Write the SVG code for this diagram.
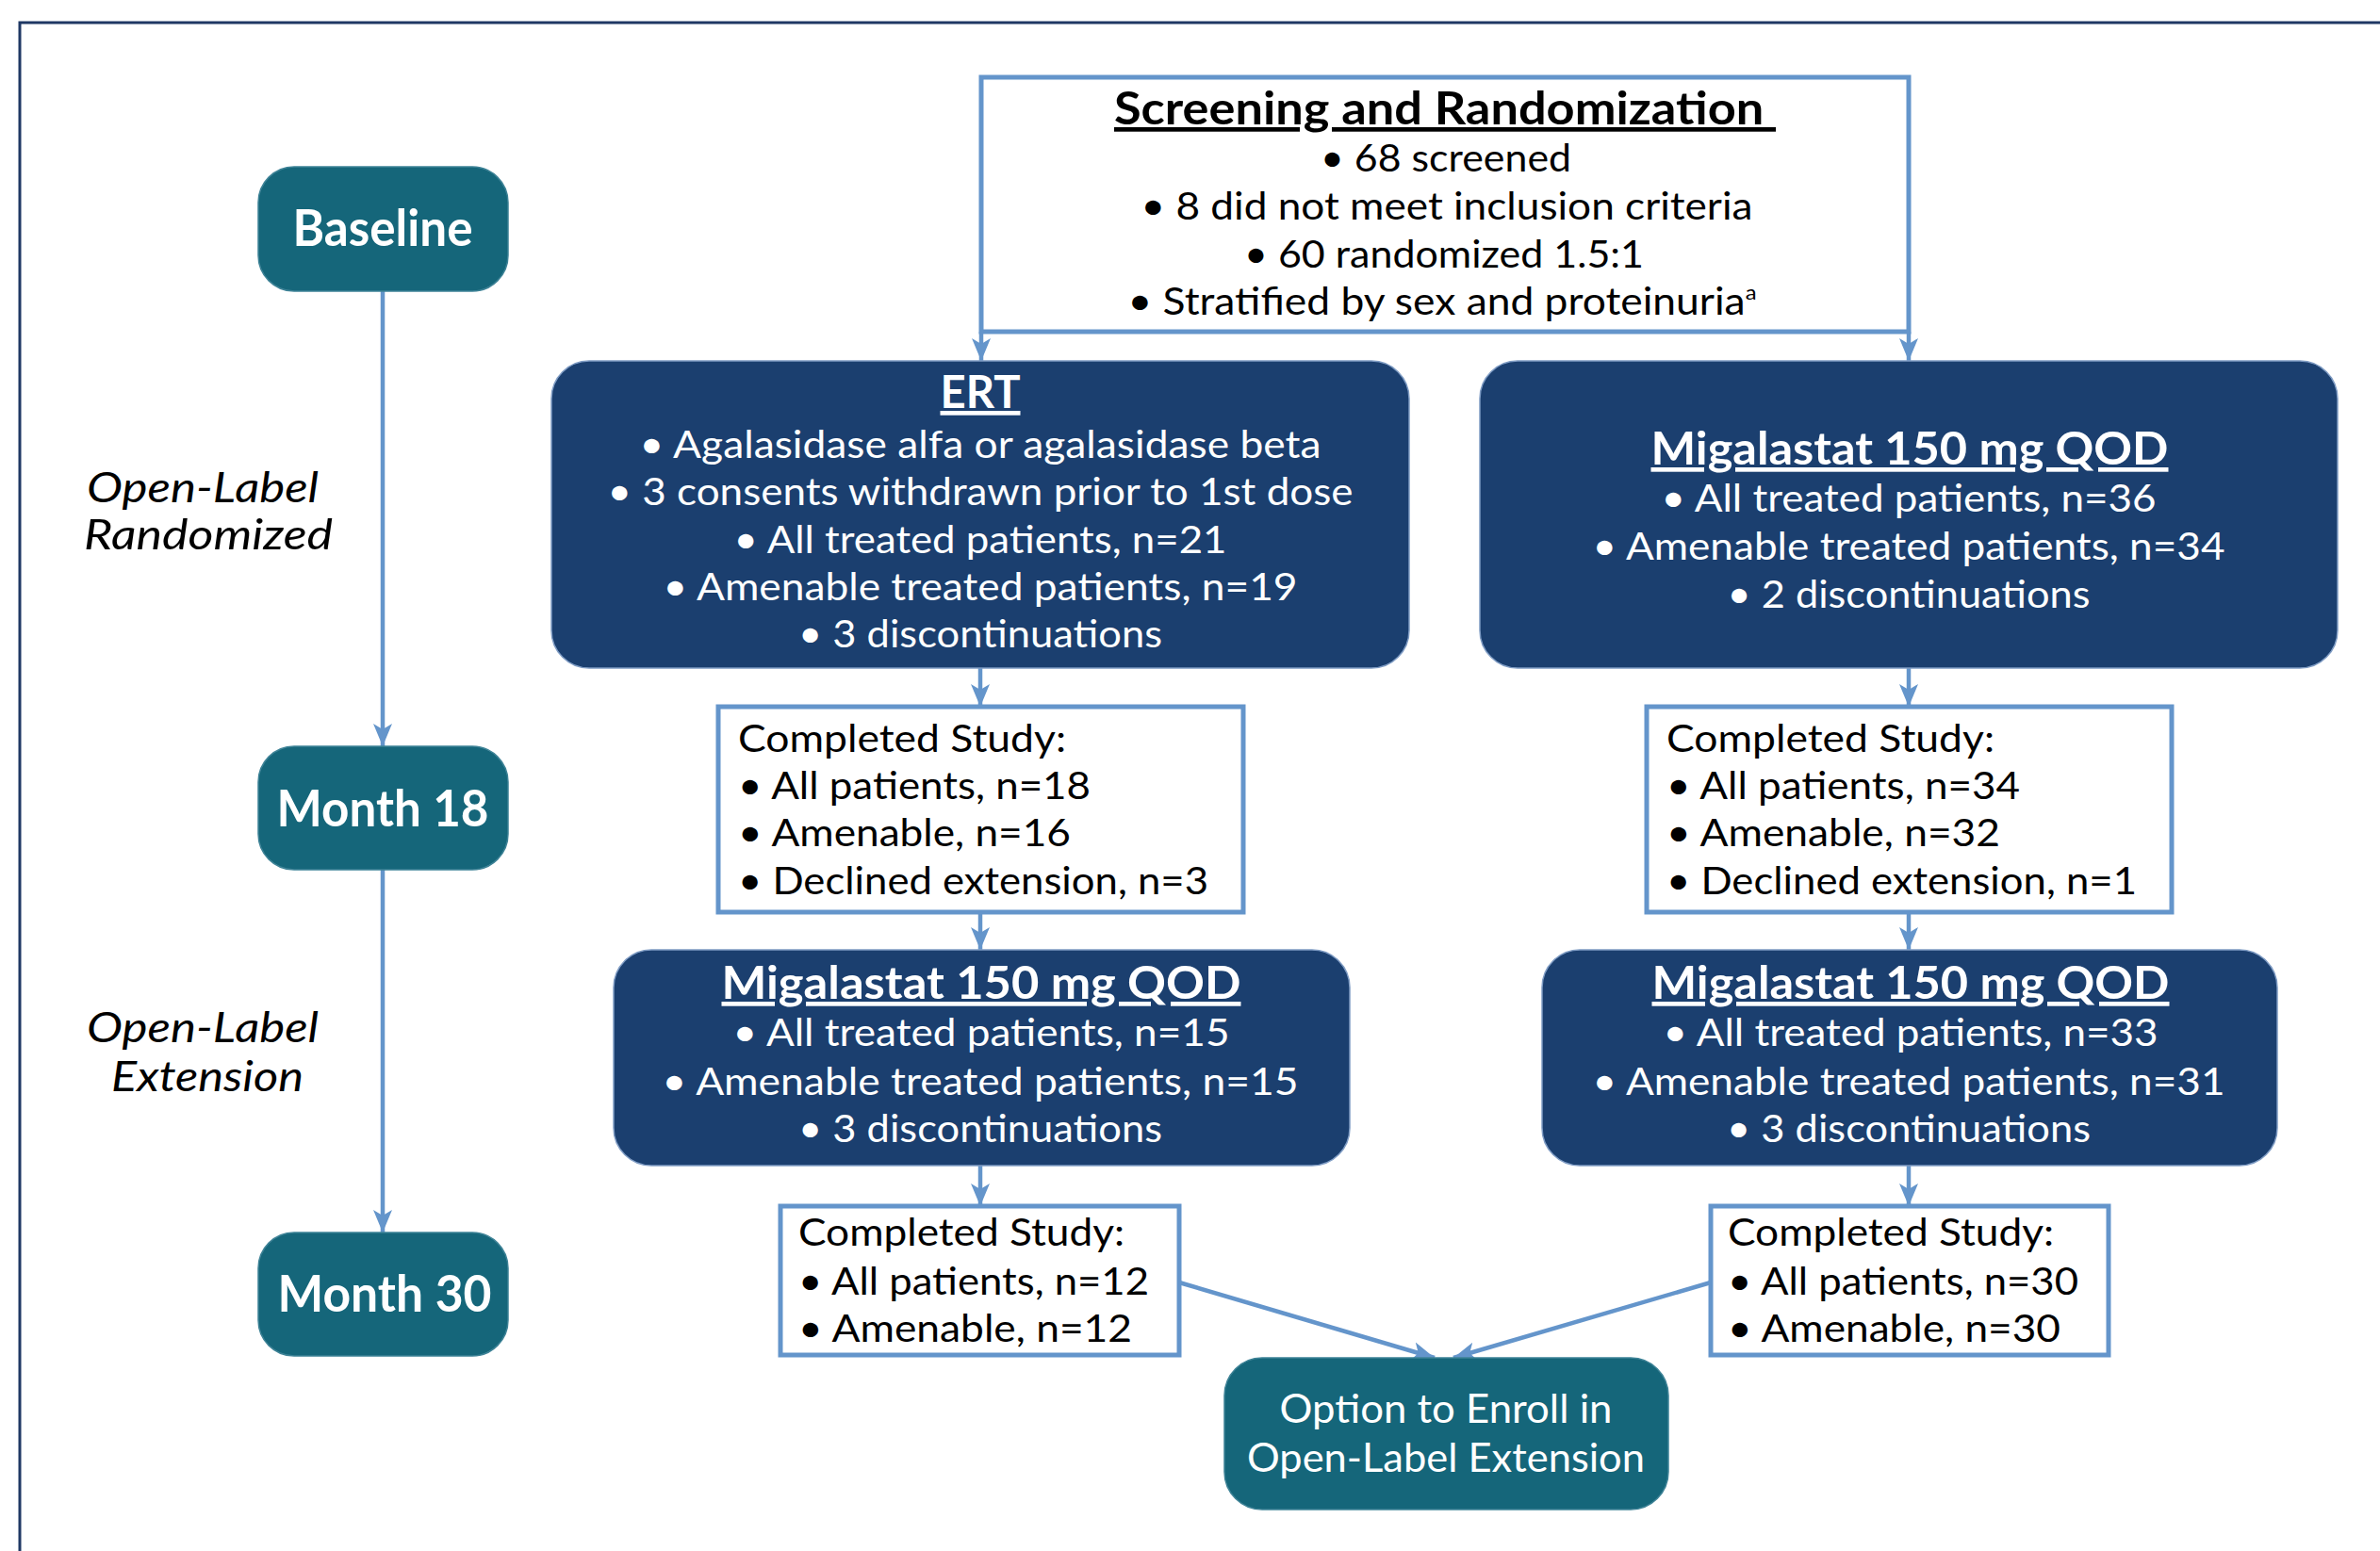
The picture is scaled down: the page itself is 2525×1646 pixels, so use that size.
<svg xmlns="http://www.w3.org/2000/svg" width="2525" height="1646" viewBox="0 0 2525 1646">
<defs>
<style>
text{font-family:Lato,"Open Sans","Liberation Sans",sans-serif;}
.teal{fill:#15667a;stroke:#3d8296;stroke-width:1.5;}
.navy{fill:#1b3f6f;stroke:#7f9cc4;stroke-width:1.5;}
.wbox{fill:#ffffff;stroke:#6495cb;stroke-width:5;}
.lab{font-size:53px;font-weight:700;fill:#ffffff;text-anchor:middle;}
.ital{font-size:45px;font-style:italic;fill:#000000;text-anchor:middle;}
.ttl{font-size:47px;font-weight:700;text-decoration:underline;text-anchor:middle;}
.bw{font-size:41px;fill:#ffffff;text-anchor:middle;}
.bk{font-size:41px;fill:#000000;}
.bkc{font-size:41px;fill:#000000;text-anchor:middle;}
.opt{font-size:42px;fill:#ffffff;text-anchor:middle;}
.conn{stroke:#6495cb;stroke-width:4.5;fill:none;marker-end:url(#ah);}
</style>
<marker id="ah" markerUnits="userSpaceOnUse" markerWidth="26" markerHeight="22" refX="24" refY="11" orient="auto">
<path d="M0,1 L24,11 L0,21 L6,11 Z" fill="#6495cb"/>
</marker>
</defs>
<rect width="2525" height="1646" fill="#ffffff"/>
<path d="M21,1646 V24 H2525" fill="none" stroke="#1f3864" stroke-width="3"/>

<g id="connectors">
<line class="conn" x1="406" y1="309" x2="406" y2="792"/>
<line class="conn" x1="406" y1="923" x2="406" y2="1308"/>
<line class="conn" x1="1041" y1="352" x2="1041" y2="383"/>
<line class="conn" x1="2025" y1="352" x2="2025" y2="383"/>
<line class="conn" x1="1040" y1="709" x2="1040" y2="750"/>
<line class="conn" x1="2025" y1="709" x2="2025" y2="750"/>
<line class="conn" x1="1040" y1="968" x2="1040" y2="1008"/>
<line class="conn" x1="2025" y1="968" x2="2025" y2="1008"/>
<line class="conn" x1="1040" y1="1237" x2="1040" y2="1280"/>
<line class="conn" x1="2025" y1="1237" x2="2025" y2="1280"/>
<line class="conn" x1="1251" y1="1361" x2="1522" y2="1441"/>
<line class="conn" x1="1815" y1="1361" x2="1542" y2="1441"/>
</g>

<g id="baseline">
<rect class="teal" x="274" y="177" width="265" height="132" rx="38"/>
<text class="lab" x="406" y="261" textLength="191" lengthAdjust="spacingAndGlyphs">Baseline</text>
</g>
<g id="month18">
<rect class="teal" x="274" y="792" width="265" height="131" rx="38"/>
<text class="lab" x="406" y="877" textLength="225" lengthAdjust="spacingAndGlyphs">Month 18</text>
</g>
<g id="month30">
<rect class="teal" x="274" y="1308" width="265" height="131" rx="38"/>
<text class="lab" x="408" y="1392" textLength="227" lengthAdjust="spacingAndGlyphs">Month 30</text>
</g>

<g id="label-randomized">
<text class="ital" x="215" y="533" textLength="246" lengthAdjust="spacingAndGlyphs">Open-Label</text>
<text class="ital" x="221" y="583" textLength="264" lengthAdjust="spacingAndGlyphs">Randomized</text>
</g>
<g id="label-extension">
<text class="ital" x="215" y="1106" textLength="246" lengthAdjust="spacingAndGlyphs">Open-Label</text>
<text class="ital" x="220" y="1158" textLength="204" lengthAdjust="spacingAndGlyphs">Extension</text>
</g>

<g id="screening">
<rect class="wbox" x="1041" y="82" width="984" height="270"/>
<text class="ttl" x="1533" y="132" textLength="702" lengthAdjust="spacingAndGlyphs" fill="#000000">Screening and Randomization&#160;</text>
<text class="bkc" x="1534" y="182" textLength="266" lengthAdjust="spacingAndGlyphs">• 68 screened</text>
<text class="bkc" x="1535" y="233" textLength="649" lengthAdjust="spacingAndGlyphs">• 8 did not meet inclusion criteria</text>
<text class="bkc" x="1532" y="284" textLength="424" lengthAdjust="spacingAndGlyphs">• 60 randomized 1.5:1</text>
<text class="bkc" x="1530" y="334" textLength="667" lengthAdjust="spacingAndGlyphs">• Stratified by sex and proteinuria<tspan font-size="22" dy="-16">a</tspan></text>
</g>

<g id="ert">
<rect class="navy" x="585" y="383" width="910" height="326" rx="40"/>
<text class="ttl" x="1040" y="433" textLength="85" lengthAdjust="spacingAndGlyphs" fill="#ffffff">ERT</text>
<text class="bw" x="1040" y="486" textLength="723" lengthAdjust="spacingAndGlyphs">• Agalasidase alfa or agalasidase beta</text>
<text class="bw" x="1040" y="536" textLength="791" lengthAdjust="spacingAndGlyphs">• 3 consents withdrawn prior to 1st dose</text>
<text class="bw" x="1040" y="587" textLength="523" lengthAdjust="spacingAndGlyphs">• All treated patients, n=21</text>
<text class="bw" x="1040" y="637" textLength="673" lengthAdjust="spacingAndGlyphs">• Amenable treated patients, n=19</text>
<text class="bw" x="1040" y="687" textLength="386" lengthAdjust="spacingAndGlyphs">• 3 discontinuations</text>
</g>

<g id="migalastat-randomized">
<rect class="navy" x="1570" y="383" width="910" height="326" rx="40"/>
<text class="ttl" x="2026" y="493" textLength="549" lengthAdjust="spacingAndGlyphs" fill="#ffffff">Migalastat 150 mg QOD</text>
<text class="bw" x="2025" y="543" textLength="525" lengthAdjust="spacingAndGlyphs">• All treated patients, n=36</text>
<text class="bw" x="2025" y="594" textLength="671" lengthAdjust="spacingAndGlyphs">• Amenable treated patients, n=34</text>
<text class="bw" x="2025" y="645" textLength="385" lengthAdjust="spacingAndGlyphs">• 2 discontinuations</text>
</g>

<g id="completed-ert-18">
<rect class="wbox" x="762" y="750" width="557" height="218"/>
<text class="bk" x="783" y="798" textLength="348" lengthAdjust="spacingAndGlyphs">Completed Study:</text>
<text class="bk" x="783" y="848" textLength="374" lengthAdjust="spacingAndGlyphs">• All patients, n=18</text>
<text class="bk" x="783" y="898" textLength="353" lengthAdjust="spacingAndGlyphs">• Amenable, n=16</text>
<text class="bk" x="783" y="949" textLength="499" lengthAdjust="spacingAndGlyphs">• Declined extension, n=3</text>
</g>

<g id="completed-mig-18">
<rect class="wbox" x="1747" y="750" width="557" height="218"/>
<text class="bk" x="1768" y="798" textLength="348" lengthAdjust="spacingAndGlyphs">Completed Study:</text>
<text class="bk" x="1768" y="848" textLength="375" lengthAdjust="spacingAndGlyphs">• All patients, n=34</text>
<text class="bk" x="1768" y="898" textLength="354" lengthAdjust="spacingAndGlyphs">• Amenable, n=32</text>
<text class="bk" x="1768" y="949" textLength="499" lengthAdjust="spacingAndGlyphs">• Declined extension, n=1</text>
</g>

<g id="migalastat-extension-ert">
<rect class="navy" x="651" y="1008" width="781" height="229" rx="40"/>
<text class="ttl" x="1041" y="1060" textLength="551" lengthAdjust="spacingAndGlyphs" fill="#ffffff">Migalastat 150 mg QOD</text>
<text class="bw" x="1041" y="1110" textLength="527" lengthAdjust="spacingAndGlyphs">• All treated patients, n=15</text>
<text class="bw" x="1040" y="1162" textLength="675" lengthAdjust="spacingAndGlyphs">• Amenable treated patients, n=15</text>
<text class="bw" x="1040" y="1212" textLength="386" lengthAdjust="spacingAndGlyphs">• 3 discontinuations</text>
</g>

<g id="migalastat-extension-mig">
<rect class="navy" x="1636" y="1008" width="780" height="229" rx="40"/>
<text class="ttl" x="2027" y="1060" textLength="549" lengthAdjust="spacingAndGlyphs" fill="#ffffff">Migalastat 150 mg QOD</text>
<text class="bw" x="2027" y="1110" textLength="525" lengthAdjust="spacingAndGlyphs">• All treated patients, n=33</text>
<text class="bw" x="2025" y="1162" textLength="671" lengthAdjust="spacingAndGlyphs">• Amenable treated patients, n=31</text>
<text class="bw" x="2025" y="1212" textLength="386" lengthAdjust="spacingAndGlyphs">• 3 discontinuations</text>
</g>

<g id="completed-ert-30">
<rect class="wbox" x="828" y="1280" width="423" height="158"/>
<text class="bk" x="847" y="1322" textLength="346" lengthAdjust="spacingAndGlyphs">Completed Study:</text>
<text class="bk" x="847" y="1374" textLength="372" lengthAdjust="spacingAndGlyphs">• All patients, n=12</text>
<text class="bk" x="847" y="1424" textLength="354" lengthAdjust="spacingAndGlyphs">• Amenable, n=12</text>
</g>

<g id="completed-mig-30">
<rect class="wbox" x="1815" y="1280" width="422" height="158"/>
<text class="bk" x="1833" y="1322" textLength="346" lengthAdjust="spacingAndGlyphs">Completed Study:</text>
<text class="bk" x="1833" y="1374" textLength="372" lengthAdjust="spacingAndGlyphs">• All patients, n=30</text>
<text class="bk" x="1833" y="1424" textLength="353" lengthAdjust="spacingAndGlyphs">• Amenable, n=30</text>
</g>

<g id="option">
<rect class="teal" x="1299" y="1441" width="471" height="161" rx="40"/>
<text class="opt" x="1534" y="1510" textLength="353" lengthAdjust="spacingAndGlyphs">Option to Enroll in</text>
<text class="opt" x="1534" y="1562" textLength="422" lengthAdjust="spacingAndGlyphs">Open-Label Extension</text>
</g>
</svg>
